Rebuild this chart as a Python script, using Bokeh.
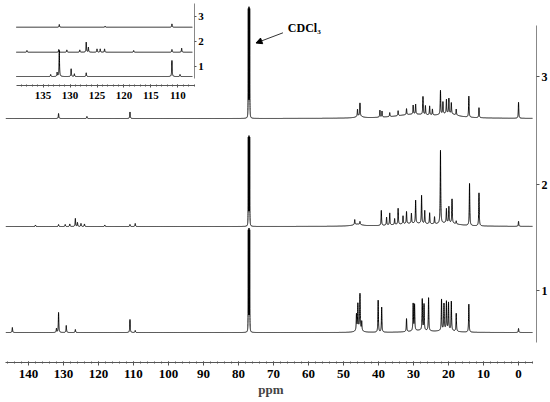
import numpy as np
from bokeh.plotting import figure
from bokeh.models import (Range1d, LinearAxis, FixedTicker, SingleIntervalTicker,
                          Label, Arrow, NormalHead)
from bokeh.embed import file_html
from bokeh.resources import INLINE

# ------------------------------------------------------------------ data
spectrum_labels = ["1", "2", "3"]

# solvent triplet (CDCl3), ppm
cdcl3_ppm = [77.2, 77.0, 76.8]
cdcl3_int = [100, 87, 107]          # per spectrum 1, 2, 3

# spectrum 1 (bottom)
s1_ppm = [144.6, 132.0, 131.4, 129.2, 126.6, 111.0, 109.5,
          46.3, 45.9, 45.3, 44.8, 40.1, 39.1, 32.0, 30.1, 29.7, 27.5, 27.0, 25.7,
          22.0, 21.3, 20.6, 20.0, 19.2, 17.8, 14.2, 0.0]
s1_int = [5, 4, 20, 7, 3, 13, 2,
          16, 25, 35, 9, 32, 25, 13, 27, 26, 31, 26, 33,
          31, 26, 28, 27, 29, 18, 28, 4]
s1_hump_ppm = [45.6, 28.0, 20.5]
s1_hump_int = [4, 2, 2.5]
s1_hump_w = [0.7, 3.0, 2.0]

# spectrum 2 (middle)
s2_ppm = [138.0, 131.4, 129.5, 128.2, 126.6, 126.0, 125.0, 124.0, 118.2, 111.0, 109.5,
          46.8, 45.3, 39.2, 37.7, 36.8, 35.4, 34.4, 33.0, 32.0, 30.6, 29.4, 27.7, 26.8,
          25.4, 24.0, 22.3, 20.6, 19.9, 19.0, 17.8, 14.0, 11.3, 0.0]
s2_int = [1.5, 2, 2, 2.5, 8, 4, 3, 2.5, 1.5, 2, 3,
          5, 3, 15, 8, 12, 6, 16, 8, 12, 10, 23, 28, 13,
          11, 7, 73, 14, 16, 24, 3, 42, 33, 5]
s2_hump_ppm = [46.0, 30.0, 20.0]
s2_hump_int = [2, 3, 3]
s2_hump_w = [1.5, 6.0, 3.0]

# spectrum 3 (top)
s3_ppm = [131.4, 123.3, 111.0,
          46.0, 45.3, 39.6, 39.0, 36.8, 34.4, 32.0, 30.1, 29.4, 27.3, 26.6, 25.4, 24.6,
          22.3, 21.6, 20.6, 19.9, 19.2, 17.8, 14.2, 11.3, 0.0]
s3_int = [5, 2, 6.5,
          7, 13, 7, 6, 4, 5, 6, 9, 10, 18, 9, 9, 6,
          24, 12, 14, 15, 11, 6, 21, 10, 16]
s3_hump_ppm = [45.5, 30.0, 20.0]
s3_hump_int = [2, 4, 4]
s3_hump_w = [1.0, 6.0, 3.0]

# inset: aromatic region 107-140 ppm, magnified
ins_s1_ppm = [133.6, 132.4, 132.0, 129.8, 129.2, 127.0, 111.1, 109.6]
ins_s1_int = [2, 4, 26, 7.7, 2.7, 3.7, 16, 2]
ins_s2_ppm = [138.0, 132.1, 130.6, 128.2, 127.0, 126.6, 125.0, 124.4, 123.6, 118.2, 111.1, 109.3]
ins_s2_int = [1.7, 2.7, 2.3, 2.3, 10, 5, 3.3, 3.3, 3.3, 1.7, 2.7, 4]
ins_s3_ppm = [132.0, 123.5, 111.1]
ins_s3_int = [2.7, 1.0, 3.3]

# ------------------------------------------------------------------ layout constants
main_offsets = [30, 136, 244]
inset_offsets = [286, 310.3, 335.3]
FONT = "Liberation Serif"


def trace(grid, ppm, inten, gamma, hump_ppm=(), hump_int=(), hump_w=()):
    y = np.zeros_like(grid)
    for c, h in zip(ppm, inten):
        y += h / (1.0 + ((grid - c) / gamma) ** 2)
    for c, h, w in zip(hump_ppm, hump_int, hump_w):
        y += h / (1.0 + ((grid - c) / w) ** 2)
    return y


p = figure(width=550, height=402, output_backend="svg", toolbar_location=None,
           x_range=Range1d(146.56, -5.13), y_range=Range1d(0, 362),
           x_axis_type=None, y_axis_type=None,
           min_border_left=5, min_border_top=0, min_border_right=13, min_border_bottom=40)
p.outline_line_color = None
p.background_fill_color = "white"
p.border_fill_color = "white"
p.extra_x_ranges = {"inset": Range1d(141.98, 43.46)}

# ---- main spectra
all_main = [(s1_ppm, s1_int, s1_hump_ppm, s1_hump_int, s1_hump_w),
            (s2_ppm, s2_int, s2_hump_ppm, s2_hump_int, s2_hump_w),
            (s3_ppm, s3_int, s3_hump_ppm, s3_hump_int, s3_hump_w)]
for i, (pp, ii, hp, hi, hw) in enumerate(all_main):
    grid = np.union1d(np.linspace(-4.0, 146.5, 15000), np.array(pp + cdcl3_ppm))
    y = trace(grid, pp, ii, 0.08, hp, hi, hw)
    y += trace(grid, cdcl3_ppm, [cdcl3_int[i]] * 3, 0.03)
    p.line(grid, y + main_offsets[i], line_color="black", line_width=1.0)

# ---- inset spectra
inset_sets = [(ins_s1_ppm, ins_s1_int), (ins_s2_ppm, ins_s2_int), (ins_s3_ppm, ins_s3_int)]
for i, (pp, ii) in enumerate(inset_sets):
    grid = np.union1d(np.linspace(107.3, 140.0, 6000), np.array(pp))
    y = trace(grid, pp, ii, 0.05)
    p.line(grid, y + inset_offsets[i], line_color="black", line_width=1.0,
           x_range_name="inset")

# ---- main bottom axis
xax = LinearAxis(ticker=SingleIntervalTicker(interval=10, num_minor_ticks=5),
                 bounds=(-4.0, 146.56), axis_label="ppm")
xax.axis_line_color = "#555555"
xax.major_tick_line_color = "#555555"
xax.minor_tick_line_color = "#555555"
xax.major_tick_in = 1
xax.major_tick_out = 3
xax.minor_tick_in = 1
xax.minor_tick_out = 1
xax.major_label_standoff = 4
xax.major_label_text_font = FONT
xax.major_label_text_font_style = "bold"
xax.major_label_text_font_size = "13px"
xax.major_label_text_color = "black"
xax.axis_label_text_font = FONT
xax.axis_label_text_font_style = "bold"
xax.axis_label_text_font_size = "13px"
xax.axis_label_standoff = 1
p.add_layout(xax, "below")

# ---- main right axis (trace labels)
main_ticks = [off + 42 for off in main_offsets]
yax = LinearAxis(ticker=FixedTicker(ticks=main_ticks),
                 major_label_overrides={t: lab for t, lab in zip(main_ticks, spectrum_labels)},
                 bounds=(20, 337))
yax.axis_line_color = "#888888"
yax.major_tick_line_color = "#555555"
yax.major_tick_in = 0
yax.major_tick_out = 3
yax.minor_tick_line_color = None
yax.major_label_standoff = 2
yax.major_label_text_font = FONT
yax.major_label_text_font_style = "bold"
yax.major_label_text_font_size = "12px"
yax.major_label_text_color = "black"
p.add_layout(yax, "right")

# ---- inset bottom axis
ixax = LinearAxis(x_range_name="inset",
                  ticker=SingleIntervalTicker(interval=5, num_minor_ticks=5),
                  bounds=(107.0, 139.9), fixed_location=277)
ixax.axis_line_color = "#555555"
ixax.major_tick_line_color = "#555555"
ixax.minor_tick_line_color = "#555555"
ixax.major_tick_in = 1
ixax.major_tick_out = 2
ixax.minor_tick_in = 1
ixax.minor_tick_out = 1
ixax.major_label_standoff = 4
ixax.major_label_text_font = FONT
ixax.major_label_text_font_style = "bold"
ixax.major_label_text_font_size = "11px"
ixax.major_label_text_color = "black"
p.add_layout(ixax, "below")

# ---- inset right axis
inset_ticks = [off + 10.5 for off in inset_offsets]
iyax = LinearAxis(ticker=FixedTicker(ticks=inset_ticks),
                  major_label_overrides={t: lab for t, lab in zip(inset_ticks, spectrum_labels)},
                  bounds=(284, 359), fixed_location=92.67)
iyax.axis_line_color = "#888888"
iyax.major_tick_line_color = "#555555"
iyax.major_tick_in = 0
iyax.major_tick_out = 2
iyax.minor_tick_line_color = None
iyax.major_label_standoff = 2
iyax.major_label_text_font = FONT
iyax.major_label_text_font_style = "bold"
iyax.major_label_text_font_size = "11px"
iyax.major_label_text_color = "black"
p.add_layout(iyax, "right")

# ---- solvent annotation
p.add_layout(Label(x=65.9, y=335, text="CDCl\u2083", text_baseline="middle",
                   text_font=FONT, text_font_style="bold", text_font_size="12px",
                   text_color="black"))
p.add_layout(Arrow(end=NormalHead(size=6, fill_color="black", line_color="black"),
                   x_start=67.3, y_start=329.7, x_end=75.0, y_end=319.5,
                   line_color="#333333", line_width=1))

open("out.html", "w").write(file_html(p, INLINE))
